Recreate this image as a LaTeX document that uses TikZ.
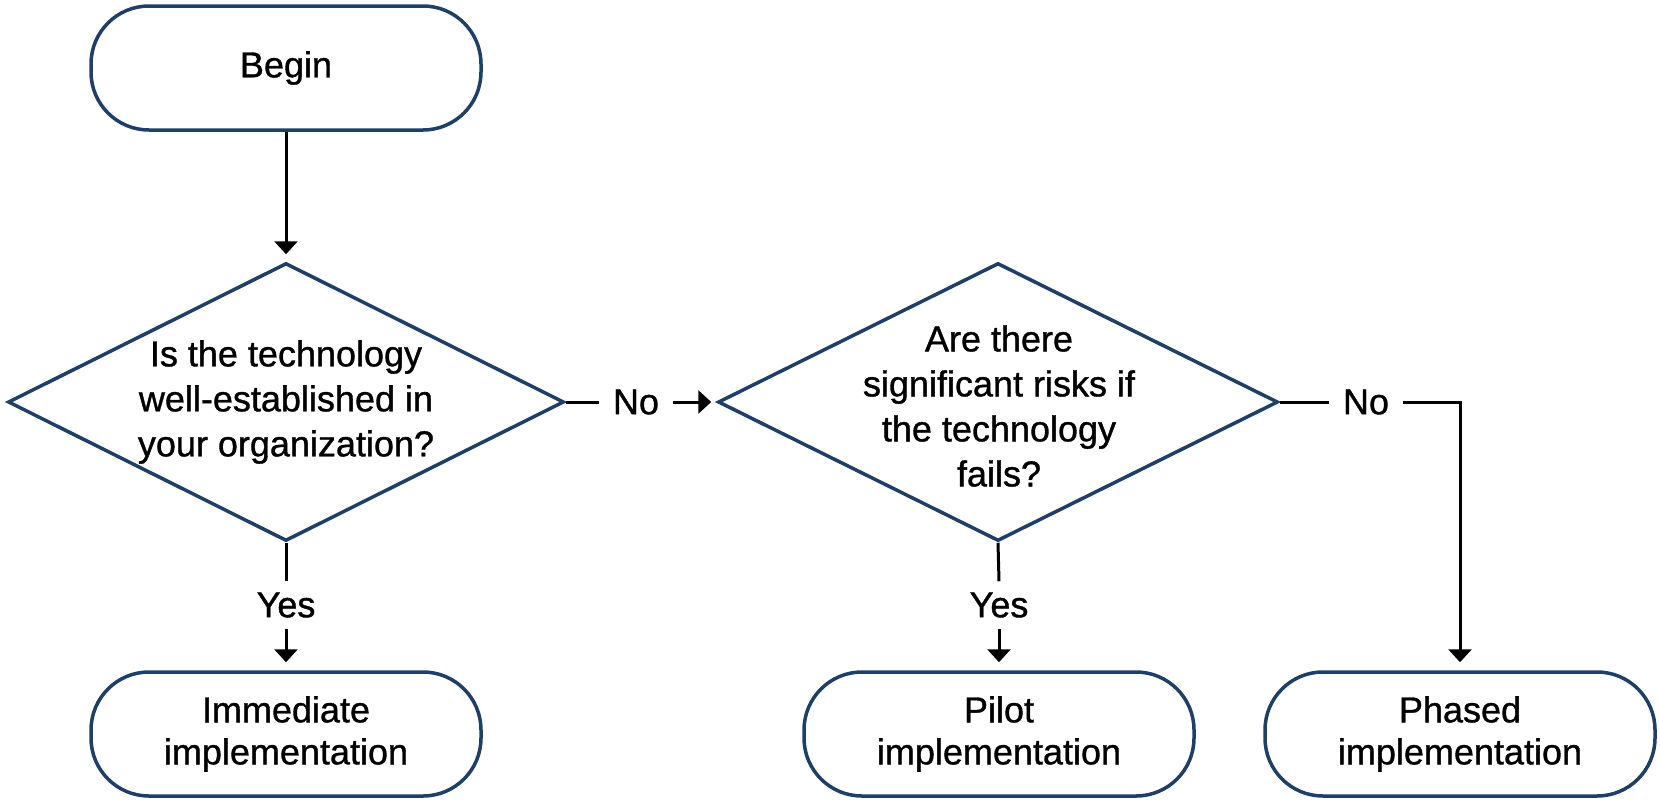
\documentclass[tikz,border=0pt]{standalone}
\usepackage{fontspec}
\setmainfont{Liberation Sans}[FakeBold=1]
\usepackage{xcolor}
\usetikzlibrary{arrows.meta}
\usetikzlibrary{shapes.geometric, positioning, calc}

\definecolor{flowblue}{HTML}{1F3F66}

\tikzset{
  terminal/.style={draw=flowblue, line width=3.5pt, rectangle, rounded corners=58pt,
    minimum width=390pt, minimum height=124pt, align=center,
    font=\fontsize{36}{42}\selectfont},
  decision/.style={draw=flowblue, line width=3.5pt, diamond, inner sep=0pt,
    minimum width=556pt, minimum height=278pt},
  question/.style={align=center, font=\fontsize{36}{45}\selectfont},
  answer/.style={font=\fontsize{36}{42}\selectfont, inner xsep=14pt, inner ysep=11pt},
  flow/.style={line width=3pt, black},
}

\begin{document}
\begin{tikzpicture}[x=1pt, y=-1pt, >={Triangle[length=13pt, width=23pt]}]
      \useasboundingbox (0, 0) rectangle (1660, 801);

      \node[terminal] (begin) at (286, 68) {Begin};
      \node[decision] (known) at (286, 402) {};
      \node[question] (known-text) at (known) {Is the technology\\well-established in\\your organization?};
      \node[decision, minimum width=560pt] (risks) at (998, 402) {};
      \node[question] (risks-text) at (999, 406) {Are there\\significant risks if\\the technology\\fails?};

      \node[terminal] (immediate) at (286, 734) {Immediate\\implementation};
      \node[terminal] (pilot) at (999, 734) {Pilot\\implementation};
      \node[terminal] (phased) at (1460, 734) {Phased\\implementation};

      \node[answer] (noa) at (636, 402) {No};
      \node[answer] (nob) at (1366, 402) {No};
      \node[answer] (yesa) at (286, 605) {Yes};
      \node[answer] (yesb) at (999, 605) {Yes};
      \coordinate (turn) at (phased.north |- nob.east);

      \draw[flow, ->, shorten >=7pt] (begin) -- (known);

      \draw[flow] (known.east) -- (noa.west);
      \draw[flow, ->, shorten >=5pt] (noa.east) -- (risks.west);

      \draw[flow] (known.south) -- (yesa.north);
      \draw[flow, ->, shorten >=8pt] (yesa.south) -- (immediate.north);

      \draw[flow] (risks.south) -- (yesb.north);
      \draw[flow, ->, shorten >=8pt] (yesb.south) -- (pilot.north);

      \draw[flow] (risks.east) -- (nob.west);
      \draw[flow, ->, shorten >=8pt] (nob.east) -- (turn) -- (phased.north);
\end{tikzpicture}
\end{document}
